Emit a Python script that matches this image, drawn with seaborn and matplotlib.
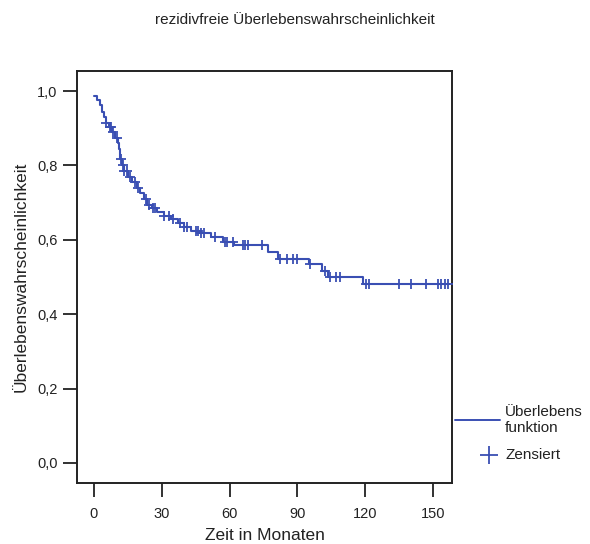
import numpy as np
import pandas as pd
import matplotlib
matplotlib.use("Agg")
import matplotlib.pyplot as plt
from matplotlib.lines import Line2D
import seaborn as sns

# Kaplan-Meier step function: times (months) where the estimate drops, and the value after each drop
event_times = [0, 1.5, 2.5, 3.5, 4.5, 5.5, 6.5, 8, 9.5, 10.5, 11, 11.5, 12.5, 13.5, 15, 17,
               19, 20.5, 22, 23.5, 25.5, 28, 31, 34, 37, 40, 43, 47, 52, 57, 62, 77,
               81.5, 95, 101, 103.5, 119]
survival = [0.988, 0.975, 0.962, 0.945, 0.930, 0.915, 0.903, 0.890, 0.875, 0.860, 0.845,
            0.818, 0.800, 0.785, 0.770, 0.755, 0.740, 0.725, 0.710, 0.695, 0.685, 0.675,
            0.665, 0.655, 0.645, 0.635, 0.625, 0.618, 0.607, 0.595, 0.585, 0.566, 0.548,
            0.534, 0.516, 0.501, 0.482]
end_time = 157

# Censored observations (months)
censored_times = [5.5, 7, 7.5, 8.5, 10, 11.8, 12.8, 13.5, 14.5, 16, 18, 19.5, 23, 24.5, 26,
                  27, 31, 33, 35, 38, 40, 41, 45, 46, 47.5, 48.5, 53.6, 58, 59, 61.6, 66,
                  67, 68.2, 74.4, 82.4, 85.5, 88.2, 90, 95.7, 102.4, 104.6, 107, 109,
                  120.2, 121.5, 134.8, 140.1, 146.8, 152.1, 153.4, 155.2, 156.6]

x_ticks = [0, 30, 60, 90, 120, 150]
y_ticks = [0.0, 0.2, 0.4, 0.6, 0.8, 1.0]

title = "rezidivfreie Überlebenswahrscheinlichkeit"
x_label = "Zeit in Monaten"
y_label = "Überlebenswahrscheinlichkeit"
legend_line = "Überlebens\nfunktion"
legend_censor = "Zensiert"

blue = "#3a4fb3"

sns.set_style("ticks")
plt.rcParams["font.family"] = ["Liberation Sans", "DejaVu Sans"]

curve = pd.DataFrame({
    "t": event_times + [end_time],
    "s": survival + [survival[-1]],
})

# survival value at each censoring time (right-continuous step lookup)
idx = np.searchsorted(np.array(event_times), np.array(censored_times), side="right") - 1
censored = pd.DataFrame({"t": censored_times, "s": np.array(survival)[idx]})

fig = plt.figure(figsize=(5.9, 5.44), dpi=100)
ax = fig.add_axes([0.1305, 0.112, 0.6355, 0.7575])

sns.lineplot(data=curve, x="t", y="s", ax=ax, drawstyle="steps-post",
             color=blue, linewidth=1.5, estimator=None, sort=False)
sns.scatterplot(data=censored, x="t", y="s", ax=ax, marker="+", s=42,
                color=blue, linewidth=1.3, zorder=3)

ax.set_xlim(-7.5, 158.4)
ax.set_ylim(-0.054, 1.054)
ax.set_xticks(x_ticks)
ax.set_xticklabels([str(v) for v in x_ticks])
ax.set_yticks(y_ticks)
ax.set_yticklabels([f"{v:.1f}".replace(".", ",") for v in y_ticks])
ax.tick_params(axis="both", length=10, width=1.3, labelsize=10.5, color="#222222",
               labelcolor="#222222")
ax.tick_params(axis="x", pad=7)
ax.tick_params(axis="y", pad=4)
for sp in ax.spines.values():
    sp.set_visible(True)
    sp.set_linewidth(1.4)
    sp.set_color("#222222")

ax.set_xlabel(x_label, fontsize=12.5, color="#222222", labelpad=5)
ax.set_ylabel(y_label, fontsize=12.5, color="#222222", labelpad=6)
fig.text(0.5, 1 - 20 / 544, title, ha="center", va="center", fontsize=11, color="#222222")

# legend drawn beside the axes
fig.add_artist(Line2D([455 / 590, 500 / 590], [1 - 420 / 544, 1 - 420 / 544],
                      color=blue, linewidth=1.4, transform=fig.transFigure))
fig.text(505 / 590, 1 - 420 / 544, legend_line, ha="left", va="center",
         fontsize=11, color="#222222", linespacing=1.1)
fig.add_artist(Line2D([489 / 590], [1 - 455 / 544], marker="+", markersize=13,
                      markeredgewidth=1.3, color=blue, linestyle="none",
                      transform=fig.transFigure))
fig.text(505 / 590, 1 - 455 / 544, legend_censor, ha="left", va="center",
         fontsize=11, color="#222222")

fig.savefig("out.png", dpi=100)
